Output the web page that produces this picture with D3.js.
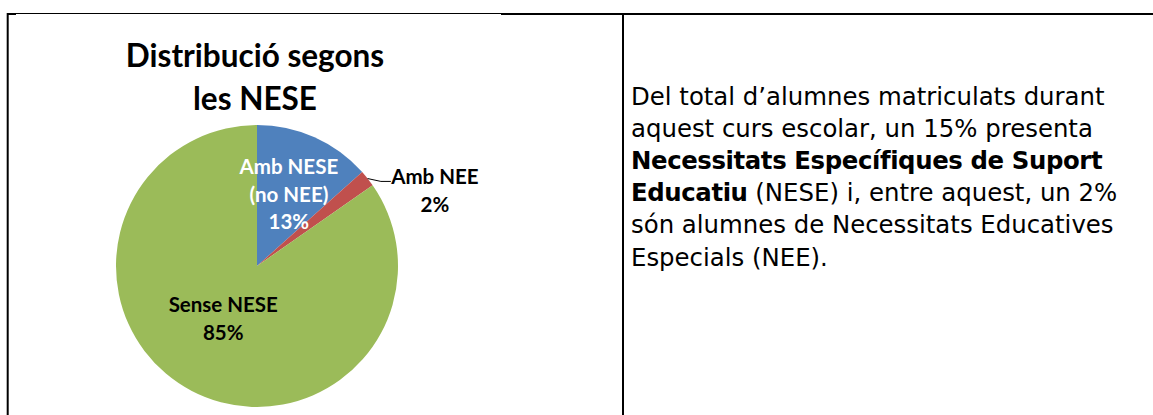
<!DOCTYPE html>
<html>
<head>
<meta charset="utf-8">
<script src="https://cdnjs.cloudflare.com/ajax/libs/d3/7.8.5/d3.min.js"></script>
<style>
  body { margin: 0; background: #fff; }
  svg { display: block; }
</style>
</head>
<body>
<div id="chart"></div>
<script>
// pie data (percent of enrolled students)
var categories = ["Amb NESE (no NEE)", "Amb NEE", "Sense NESE"];
var values = [13.4, 1.9, 84.7];
var labelLines = [["Amb NESE", "(no NEE)", "13%"], ["Amb NEE", "2%"], ["Sense NESE", "85%"]];
var colors = ["#4F81BD", "#C0504D", "#9BBB59"];
var titleLines = ["Distribució segons", "les NESE"];

// paragraph to the right, each line is a list of [text, bold]
var noteLines = [
    [["Del total d\u2019alumnes matriculats durant", false]],
    [["aquest curs escolar, un 15% presenta", false]],
    [["Necessitats Específiques de Suport", true]],
    [["Educatiu", true], [" (NESE) i, entre aquest, un 2%", false]],
    [["són alumnes de Necessitats Educatives", false]],
    [["Especials (NEE).", false]]
];

var width = 1153, height = 415;
var svg = d3.select("#chart").append("svg")
    .attr("width", width)
    .attr("height", height);

svg.append("rect").attr("width", width).attr("height", height).attr("fill", "#fff");

//table borders
svg.append("line").attr("x1", 7).attr("x2", 501).attr("y1", 13.5).attr("y2", 13.5)
    .attr("stroke", "#000").attr("stroke-width", 1);
svg.append("line").attr("x1", 501).attr("x2", width).attr("y1", 14).attr("y2", 14)
    .attr("stroke", "#000").attr("stroke-width", 2);
svg.append("line").attr("x1", 7).attr("x2", 16).attr("y1", 14).attr("y2", 14)
    .attr("stroke", "#000").attr("stroke-width", 2);
svg.append("line").attr("x1", 7.7).attr("x2", 7.7).attr("y1", 13).attr("y2", height)
    .attr("stroke", "#000").attr("stroke-width", 2);
svg.append("line").attr("x1", 623).attr("x2", 623).attr("y1", 13).attr("y2", height)
    .attr("stroke", "#000").attr("stroke-width", 2);

// chart title
var cx = 257, cy = 266, radius = 141;
svg.append("text")
    .attr("text-anchor", "middle")
    .style("font-family", "Lato, 'Open Sans', sans-serif")
    .style("font-weight", "bold")
    .style("font-size", "31.5px")
    .attr("fill", "#000")
    .selectAll("tspan")
    .data(titleLines)
    .enter()
    .append("tspan")
    .attr("x", cx - 2)
    .attr("y", function (d, i) { return 67 + i * 43; })
    .text(function (d) { return d; });

// pie
var pie = d3.pie().sort(null).value(function (d) { return d; });
var arcs = pie(values);
var arc = d3.arc().innerRadius(0).outerRadius(radius);

var g = svg.append("g").attr("transform", "translate(" + cx + "," + cy + ")");
g.selectAll("path")
    .data(arcs)
    .enter()
    .append("path")
    .attr("d", arc)
    .attr("fill", function (d, i) { return colors[i]; });

// inside labels
var labelRadius = [78, 0, 60];
var labelNudge = [0, 0, -6];
var labelFill = ["#fff", "#000", "#000"];
var lineGap = 27.5;

function pointAt(angle, r) {
    return [Math.sin(angle) * r, -Math.cos(angle) * r];
}

arcs.forEach(function (a, i) {
    var mid = (a.startAngle + a.endAngle) / 2;
    var lines = labelLines[i];
    var pos;
    if (i === 1) {
        //small slice: label outside with a leader line
        var p0 = pointAt(mid, radius);
        var p1 = pointAt(mid + 0.07, radius + 9);
        var p2 = [p1[0] + 10, p1[1]];
        g.append("polyline")
            .attr("points", [p0, p1, p2].map(function (p) { return p.join(","); }).join(" "))
            .attr("fill", "none")
            .attr("stroke", "#000")
            .attr("stroke-width", 1);
        pos = [p2[0] + 44, p2[1] + 3];
    } else {
        pos = pointAt(mid, labelRadius[i]);
        pos = [pos[0] + labelNudge[i], pos[1] - (lines.length - 1) * lineGap / 2 + 7];
    }
    var t = g.append("text")
        .attr("text-anchor", "middle")
        .style("font-family", "Lato, 'Open Sans', sans-serif")
        .style("font-weight", "bold")
        .style("font-size", "20.5px")
        .attr("fill", labelFill[i]);
    t.selectAll("tspan")
        .data(lines)
        .enter()
        .append("tspan")
        .attr("x", pos[0])
        .attr("y", function (d, j) { return pos[1] + j * lineGap; })
        .text(function (d) { return d; });
});

// paragraph
var note = svg.append("text")
    .style("font-family", "'DejaVu Sans', sans-serif")
    .style("font-size", "24.4px")
    .attr("fill", "#000");
noteLines.forEach(function (line, i) {
    line.forEach(function (part, j) {
        var ts = note.append("tspan")
            .style("font-weight", part[1] ? "bold" : "normal")
            .style("letter-spacing", part[1] ? "-0.4px" : null)
            .text(part[0]);
        if (j === 0) {
            ts.attr("x", 631).attr("y", 105 + i * 32.1);
        }
    });
});
</script>
</body>
</html>
